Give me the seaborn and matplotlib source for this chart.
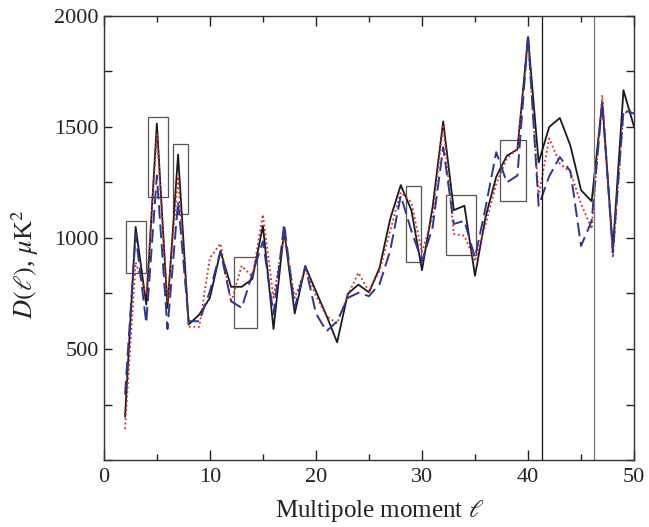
import numpy as np
import pandas as pd
import matplotlib
matplotlib.use('Agg')
import matplotlib.pyplot as plt
from matplotlib.patches import Rectangle
from matplotlib.ticker import MultipleLocator
import seaborn as sns

# ---------- data ----------
ell = list(range(2, 51))

d_black = [195, 1050, 700, 1515, 685, 1375, 610, 655, 730, 940,
           780, 780, 815, 1055, 590, 1035, 660, 872, 760, 650,
           530, 748, 790, 755, 865, 1085, 1238, 1125, 855, 1138,
           1525, 1125, 1145, 830, 1095, 1275, 1370, 1398, 1905, 1340,
           1500, 1540, 1415, 1215, 1165, 1612, 950, 1665, 1500]

d_red = [140, 890, 745, 1465, 715, 1275, 600, 600, 910, 975,
         710, 875, 825, 1105, 730, 1020, 730, 860, 740, 648,
         615, 742, 843, 760, 852, 1032, 1205, 1160, 935, 1092,
         1510, 1018, 1010, 895, 1062, 1243, 1358, 1403, 1880, 1190,
         1448, 1335, 1296, 1154, 1041, 1643, 911, 1561, 1578]

d_blue = [295, 1017, 617, 1281, 590, 1165, 625, 625, 760, 940,
          715, 685, 837, 985, 656, 1063, 685, 874, 660, 580,
          625, 730, 753, 738, 792, 942, 1190, 1032, 896, 1047,
          1409, 1063, 1077, 911, 1138, 1386, 1250, 1281, 1915, 1145,
          1278, 1364, 1300, 964, 1077, 1612, 934, 1575, 1560]

# boxes: (l_min, l_max, D_min, D_max)
boxes = [(2.1, 4.0, 840, 1078),
         (4.2, 6.05, 1185, 1545),
         (6.55, 7.9, 1110, 1425),
         (12.25, 14.45, 595, 915),
         (28.45, 29.9, 890, 1235),
         (32.25, 35.05, 925, 1195),
         (37.4, 39.8, 1165, 1440)]

vlines = [41.3, 46.2]
vline_colors = ['#111111', '#777777']

df = pd.DataFrame({'ell': ell, 'black': d_black, 'red': d_red, 'blue': d_blue})

# ---------- style ----------
sns.set_style('ticks')
plt.rcParams['font.family'] = ['Liberation Serif', 'DejaVu Serif']
plt.rcParams['mathtext.fontset'] = 'stix'

fig = plt.figure(figsize=(6.49, 5.27), dpi=100)
ax = fig.add_axes([0.160, 0.127, 0.817, 0.843])

sns.lineplot(data=df, x='ell', y='black', ax=ax, color='#1a1a1a', lw=1.3)
sns.lineplot(data=df, x='ell', y='red', ax=ax, color='#d42a2a', lw=1.3,
             linestyle=(0, (1, 1.5)))
sns.lineplot(data=df, x='ell', y='blue', ax=ax, color='#2c3794', lw=1.4,
             linestyle=(0, (7, 3)))

for x0, x1, y0, y1 in boxes:
    ax.add_patch(Rectangle((x0, y0), x1 - x0, y1 - y0, fill=False,
                           edgecolor='#555555', lw=0.9, zorder=1))

for xv, c in zip(vlines, vline_colors):
    ax.axvline(xv, color=c, lw=0.9)

ax.set_xlim(0, 50)
ax.set_ylim(0, 2000)
ax.xaxis.set_major_locator(MultipleLocator(10))
ax.xaxis.set_minor_locator(MultipleLocator(5))
ax.yaxis.set_major_locator(MultipleLocator(500))
ax.yaxis.set_minor_locator(MultipleLocator(250))
ax.set_yticks([500, 1000, 1500, 2000])
ax.tick_params(which='both', direction='in', top=True, right=True,
               labelsize=16, width=1.0, colors='#222222')
ax.tick_params(axis='x', which='major', length=7)
ax.tick_params(axis='x', which='minor', length=4)
ax.tick_params(axis='y', which='both', length=6)
ax.tick_params(axis='x', pad=6)

for s in ax.spines.values():
    s.set_linewidth(1.0)
    s.set_color('#333333')

ax.set_xlabel(r'Multipole moment $\ell$', fontsize=18, color='#222222')
ax.set_ylabel(r'$D(\ell)$, $\mu$K$^2$', fontsize=19, color='#222222')
ax.xaxis.set_label_coords(0.52, -0.085)
ax.yaxis.set_label_coords(-0.118, 0.44)

fig.savefig('out.png', dpi=100)
